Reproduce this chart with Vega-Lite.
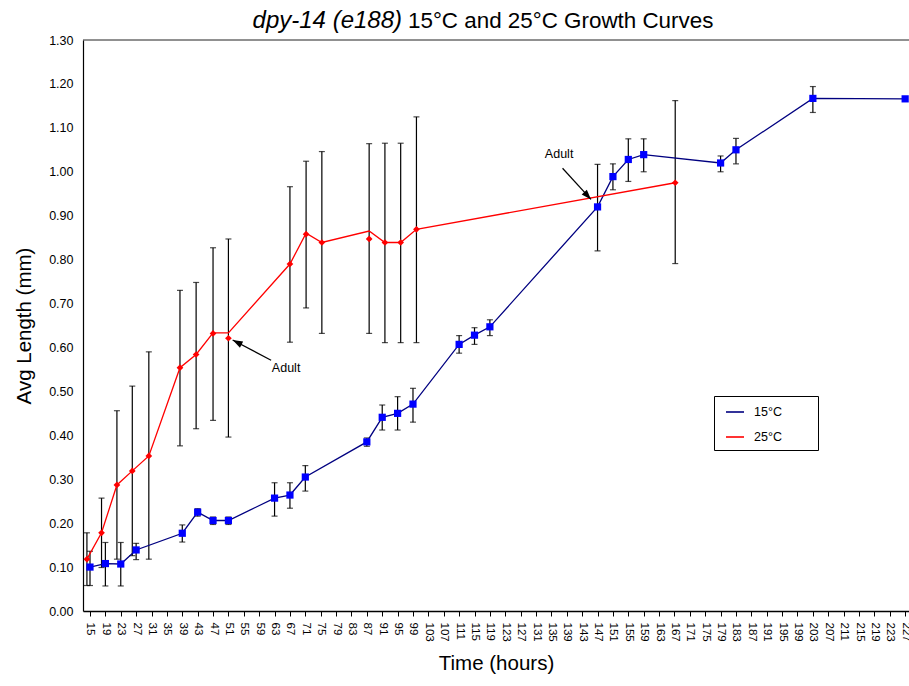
{
  "$schema": "https://vega.github.io/schema/vega-lite/v6.json",
  "width": 826,
  "height": 571,
  "autosize": {"type": "none"},
  "padding": {"left": 83, "top": 40, "right": 0, "bottom": 75},
  "background": "white",
  "config": {"view": {"stroke": null}, "font": "Liberation Sans"},
  "resolve": {"axis": {"x": "independent", "y": "independent"}},
  "datasets": {
    "points": [
      {"series": "15°C", "h": 15, "v": 0.100, "lo": 0.058, "hi": 0.136},
      {"series": "15°C", "h": 19, "v": 0.108, "lo": 0.057, "hi": 0.156},
      {"series": "15°C", "h": 23, "v": 0.107, "lo": 0.057, "hi": 0.156},
      {"series": "15°C", "h": 27, "v": 0.139, "lo": 0.117, "hi": 0.154},
      {"series": "15°C", "h": 39, "v": 0.177, "lo": 0.157, "hi": 0.196},
      {"series": "15°C", "h": 43, "v": 0.225, "lo": 0.216, "hi": 0.233},
      {"series": "15°C", "h": 47, "v": 0.206, "lo": 0.197, "hi": 0.214},
      {"series": "15°C", "h": 51, "v": 0.206, "lo": 0.197, "hi": 0.214},
      {"series": "15°C", "h": 63, "v": 0.257, "lo": 0.216, "hi": 0.292},
      {"series": "15°C", "h": 67, "v": 0.264, "lo": 0.234, "hi": 0.292},
      {"series": "15°C", "h": 71, "v": 0.305, "lo": 0.273, "hi": 0.331},
      {"series": "15°C", "h": 87, "v": 0.385, "lo": 0.375, "hi": 0.394},
      {"series": "15°C", "h": 91, "v": 0.441, "lo": 0.412, "hi": 0.469},
      {"series": "15°C", "h": 95, "v": 0.450, "lo": 0.412, "hi": 0.488},
      {"series": "15°C", "h": 99, "v": 0.471, "lo": 0.430, "hi": 0.507},
      {"series": "15°C", "h": 111, "v": 0.607, "lo": 0.587, "hi": 0.627},
      {"series": "15°C", "h": 115, "v": 0.628, "lo": 0.607, "hi": 0.645},
      {"series": "15°C", "h": 119, "v": 0.647, "lo": 0.627, "hi": 0.663},
      {"series": "15°C", "h": 147, "v": 0.920, "lo": 0.820, "hi": 1.017},
      {"series": "15°C", "h": 151, "v": 0.989, "lo": 0.959, "hi": 1.018},
      {"series": "15°C", "h": 155, "v": 1.028, "lo": 0.978, "hi": 1.075},
      {"series": "15°C", "h": 159, "v": 1.039, "lo": 1.000, "hi": 1.075},
      {"series": "15°C", "h": 179, "v": 1.020, "lo": 1.000, "hi": 1.036},
      {"series": "15°C", "h": 183, "v": 1.050, "lo": 1.018, "hi": 1.076},
      {"series": "15°C", "h": 203, "v": 1.167, "lo": 1.135, "hi": 1.194},
      {"series": "15°C", "h": 227, "v": 1.166},
      {"series": "25°C", "h": 14.2, "v": 0.118, "lo": 0.058, "hi": 0.178, "lineV": 0.118},
      {"series": "25°C", "h": 18, "v": 0.178, "lo": 0.099, "hi": 0.257, "lineV": 0.178},
      {"series": "25°C", "h": 22, "v": 0.287, "lo": 0.118, "hi": 0.456, "lineV": 0.287},
      {"series": "25°C", "h": 26, "v": 0.319, "lo": 0.126, "hi": 0.512, "lineV": 0.319},
      {"series": "25°C", "h": 30.3, "v": 0.353, "lo": 0.118, "hi": 0.590, "lineV": 0.353},
      {"series": "25°C", "h": 38.4, "v": 0.554, "lo": 0.376, "hi": 0.730, "lineV": 0.554},
      {"series": "25°C", "h": 42.6, "v": 0.584, "lo": 0.415, "hi": 0.748, "lineV": 0.584},
      {"series": "25°C", "h": 47, "v": 0.632, "lo": 0.434, "hi": 0.827, "lineV": 0.633},
      {"series": "25°C", "h": 51, "v": 0.621, "lo": 0.396, "hi": 0.847, "lineV": 0.633},
      {"series": "25°C", "h": 67, "v": 0.790, "lo": 0.612, "hi": 0.966, "lineV": 0.790},
      {"series": "25°C", "h": 71.2, "v": 0.858, "lo": 0.690, "hi": 1.024, "lineV": 0.860},
      {"series": "25°C", "h": 75.3, "v": 0.839, "lo": 0.632, "hi": 1.046, "lineV": 0.839},
      {"series": "25°C", "h": 87.6, "v": 0.847, "lo": 0.632, "hi": 1.064, "lineV": 0.865},
      {"series": "25°C", "h": 91.7, "v": 0.839, "lo": 0.611, "hi": 1.065, "lineV": 0.839},
      {"series": "25°C", "h": 95.8, "v": 0.839, "lo": 0.611, "hi": 1.065, "lineV": 0.839},
      {"series": "25°C", "h": 99.9, "v": 0.869, "lo": 0.611, "hi": 1.125, "lineV": 0.869},
      {"series": "25°C", "h": 167.2, "v": 0.975, "lo": 0.791, "hi": 1.162, "lineV": 0.975}
    ],
    "notes": [
      {"h": 62.3, "v": 0.553, "label": "Adult"},
      {"h": 133.3, "v": 1.040, "label": "Adult"}
    ],
    "arrows": [
      {"id": 1, "h": 62.1, "v": 0.571, "h2": 52.1, "v2": 0.617},
      {"id": 2, "h": 137.9, "v": 1.008, "h2": 145.3, "v2": 0.937}
    ]
  },
  "layer": [
    {
      "data": {"name": "points"},
      "transform": [{"filter": "datum.series === '15°C'"}],
      "mark": {"type": "point", "shape": "square", "filled": true, "size": 52, "color": "#0000ff", "opacity": 0},
      "encoding": {
        "x": {"field": "h", "type": "quantitative", "scale": {"domain": [13.18, 228], "nice": false, "zero": false},
          "axis": {"title": "Time (hours)", "values": [15,19,23,27,31,35,39,43,47,51,55,59,63,67,71,75,79,83,87,91,95,99,103,107,111,115,119,123,127,131,135,139,143,147,151,155,159,163,167,171,175,179,183,187,191,195,199,203,207,211,215,219,223,227],
            "labelAngle": 90, "labelAlign": "left", "labelBaseline": "middle", "labelFontSize": 11.5, "labelColor": "black",
            "labelOverlap": false, "labelFlush": false, "labelBound": false, "labelPadding": 6,
            "tickColor": "black", "tickSize": 5, "domainColor": "black", "domainWidth": 1.6, "grid": false,
            "titleFontSize": 20.5, "titleFontWeight": "normal", "titleColor": "black", "titlePadding": 12}},
        "y": {"field": "v", "type": "quantitative", "scale": {"domain": [0, 1.3], "nice": false},
          "axis": {"title": "Avg Length (mm)", "values": [0,0.1,0.2,0.3,0.4,0.5,0.6,0.7,0.8,0.9,1.0,1.1,1.2,1.3], "format": ".2f",
            "ticks": false, "labelPadding": 10, "labelFontSize": 12.5, "labelColor": "black", "labelFlush": false, "labelOverlap": false,
            "domainColor": "black", "domainWidth": 1.2, "grid": false,
            "titleFontSize": 20.5, "titleFontWeight": "normal", "titleColor": "black", "titlePadding": 14}}
      }
    },
    {
      "data": {"name": "points"},
      "transform": [{"filter": "isValid(datum.lo)"}],
      "mark": {"type": "errorbar", "ticks": {"size": 6}, "color": "black", "thickness": 1.2},
      "encoding": {
        "x": {"field": "h", "type": "quantitative", "scale": {"domain": [13.18, 228], "nice": false, "zero": false}, "axis": null},
        "y": {"field": "lo", "type": "quantitative", "scale": {"domain": [0, 1.3], "nice": false}, "axis": null},
        "y2": {"field": "hi"}
      }
    },
    {
      "data": {"name": "points"},
      "transform": [{"filter": "datum.series === '15°C'"}],
      "mark": {"type": "line", "strokeWidth": 1.3},
      "encoding": {
        "x": {"field": "h", "type": "quantitative", "scale": {"domain": [13.18, 228], "nice": false, "zero": false}, "axis": null},
        "y": {"field": "v", "type": "quantitative", "scale": {"domain": [0, 1.3], "nice": false}, "axis": null},
        "color": {"field": "series", "type": "nominal", "scale": {"domain": ["15°C", "25°C"], "range": ["#000080", "#ff0000"]},
          "legend": {"orient": "none", "legendX": 631, "legendY": 356, "symbolType": "stroke", "symbolSize": 324,
            "title": "\u2800\u2800\u2800", "titleOrient": "right", "titlePadding": 0, "titleFontSize": 12.5, "titleFontWeight": "normal", "titleColor": "white",
            "symbolStrokeWidth": 1.6, "symbolOffset": 5, "labelOffset": 9, "labelFontSize": 12.5, "labelColor": "black",
            "padding": 6, "rowPadding": 8, "strokeColor": "black", "fillColor": "white",
            "encode": {
              "symbols": {"update": {"stroke": {"signal": "datum.value === '15°C' ? '#0000ff' : '#ff0000'"}}}
            }}}
      }
    },
    {
      "data": {"name": "points"},
      "transform": [{"filter": "datum.series === '25°C'"}],
      "mark": {"type": "line", "strokeWidth": 1.3},
      "encoding": {
        "x": {"field": "h", "type": "quantitative", "scale": {"domain": [13.18, 228], "nice": false, "zero": false}, "axis": null},
        "y": {"field": "lineV", "type": "quantitative", "scale": {"domain": [0, 1.3], "nice": false}, "axis": null},
        "color": {"field": "series", "type": "nominal", "scale": {"domain": ["15°C", "25°C"], "range": ["#000080", "#ff0000"]}}
      }
    },
    {
      "data": {"name": "points"},
      "transform": [{"filter": "datum.series === '15°C'"}],
      "mark": {"type": "point", "shape": "square", "filled": true, "size": 52, "color": "#0000ff", "opacity": 1},
      "encoding": {
        "x": {"field": "h", "type": "quantitative", "scale": {"domain": [13.18, 228], "nice": false, "zero": false}, "axis": null},
        "y": {"field": "v", "type": "quantitative", "scale": {"domain": [0, 1.3], "nice": false}, "axis": null}
      }
    },
    {
      "data": {"name": "points"},
      "transform": [{"filter": "datum.series === '25°C'"}],
      "mark": {"type": "point", "shape": "diamond", "filled": true, "size": 45, "color": "#ff0000", "opacity": 1},
      "encoding": {
        "x": {"field": "h", "type": "quantitative", "scale": {"domain": [13.18, 228], "nice": false, "zero": false}, "axis": null},
        "y": {"field": "v", "type": "quantitative", "scale": {"domain": [0, 1.3], "nice": false}, "axis": null}
      }
    },
    {
      "data": {"name": "arrows"},
      "mark": {"type": "rule", "color": "black", "strokeWidth": 1.2},
      "encoding": {
        "x": {"field": "h", "type": "quantitative", "scale": {"domain": [13.18, 228], "nice": false, "zero": false}, "axis": null},
        "y": {"field": "v", "type": "quantitative", "scale": {"domain": [0, 1.3], "nice": false}, "axis": null},
        "x2": {"field": "h2"},
        "y2": {"field": "v2"}
      }
    },
    {
      "data": {"name": "arrows"},
      "transform": [{"filter": "datum.id === 1"}],
      "mark": {"type": "point", "shape": "M0,0L-0.7,2L0.7,2Z", "filled": true, "color": "black", "size": 100, "angle": 297, "opacity": 1},
      "encoding": {
        "x": {"field": "h2", "type": "quantitative", "scale": {"domain": [13.18, 228], "nice": false, "zero": false}, "axis": null},
        "y": {"field": "v2", "type": "quantitative", "scale": {"domain": [0, 1.3], "nice": false}, "axis": null}
      }
    },
    {
      "data": {"name": "arrows"},
      "transform": [{"filter": "datum.id === 2"}],
      "mark": {"type": "point", "shape": "M0,0L-0.7,2L0.7,2Z", "filled": true, "color": "black", "size": 100, "angle": 137.6, "opacity": 1},
      "encoding": {
        "x": {"field": "h2", "type": "quantitative", "scale": {"domain": [13.18, 228], "nice": false, "zero": false}, "axis": null},
        "y": {"field": "v2", "type": "quantitative", "scale": {"domain": [0, 1.3], "nice": false}, "axis": null}
      }
    },
    {
      "data": {"name": "notes"},
      "mark": {"type": "text", "align": "left", "baseline": "middle", "fontSize": 12.5, "color": "black"},
      "encoding": {
        "x": {"field": "h", "type": "quantitative", "scale": {"domain": [13.18, 228], "nice": false, "zero": false}, "axis": null},
        "y": {"field": "v", "type": "quantitative", "scale": {"domain": [0, 1.3], "nice": false}, "axis": null},
        "text": {"field": "label"}
      }
    },
    {
      "data": {"values": [{"t": "dpy-14 (e188)"}]},
      "mark": {"type": "text", "align": "right", "baseline": "alphabetic", "fontSize": 24, "fontStyle": "italic", "color": "black"},
      "encoding": {
        "x": {"datum": 96.15, "type": "quantitative", "scale": {"domain": [13.18, 228], "nice": false, "zero": false}, "axis": null},
        "y": {"datum": 1.3274, "type": "quantitative", "scale": {"domain": [0, 1.3], "nice": false}, "axis": null},
        "text": {"field": "t"}
      }
    },
    {
      "data": {"values": [{"t": "15°C and 25°C Growth Curves"}]},
      "mark": {"type": "text", "align": "left", "baseline": "alphabetic", "fontSize": 22.4, "color": "black"},
      "encoding": {
        "x": {"datum": 97.7, "type": "quantitative", "scale": {"domain": [13.18, 228], "nice": false, "zero": false}, "axis": null},
        "y": {"datum": 1.3274, "type": "quantitative", "scale": {"domain": [0, 1.3], "nice": false}, "axis": null},
        "text": {"field": "t"}
      }
    },
    {
      "data": {"values": [{"t": 1}]},
      "mark": {"type": "rule", "color": "#222222", "strokeWidth": 1},
      "encoding": {
        "y": {"datum": 1.3, "type": "quantitative", "scale": {"domain": [0, 1.3], "nice": false}, "axis": null}
      }
    }
  ]
}
